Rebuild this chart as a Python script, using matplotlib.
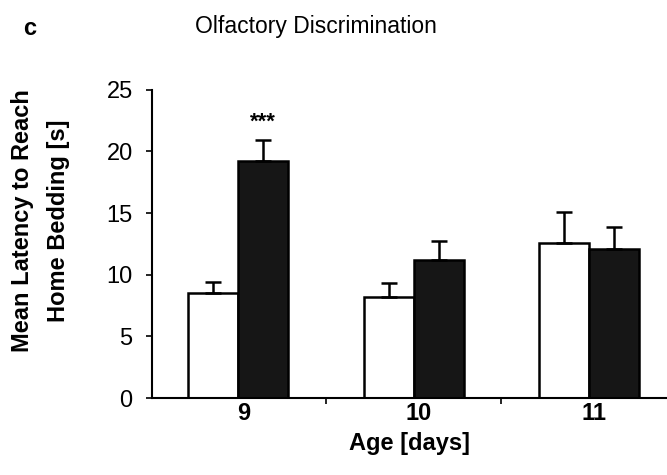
import matplotlib.pyplot as plt
import numpy as np

plt.rcParams['font.family'] = ['Liberation Sans', 'DejaVu Sans']

# Data
ages = ['9', '10', '11']
control_mean = [8.5, 8.2, 12.6]
control_err = [0.9, 1.1, 2.5]
treated_mean = [19.2, 11.2, 12.1]
treated_err = [1.7, 1.5, 1.8]

x = np.arange(len(ages))
w = 0.285

fig = plt.figure(figsize=(6.67, 4.75), dpi=100)
ax = fig.add_axes([0.228, 0.162, 0.772, 0.649])

ekw = dict(ecolor='black', elinewidth=1.8, capsize=6, capthick=1.8)
ax.bar(x - w / 2, control_mean, w, color='white', edgecolor='black', linewidth=1.8,
       yerr=[np.zeros(3), control_err], error_kw=ekw)
ax.bar(x + w / 2, treated_mean, w, color='#161616', edgecolor='black', linewidth=1.8,
       yerr=[np.zeros(3), treated_err], error_kw=ekw)

# significance marker
ax.text(x[0] + w / 2, treated_mean[0] + treated_err[0] + 0.6, '***', ha='center', va='bottom',
        fontsize=16, fontweight='bold')

ax.set_xlim(-0.49, 2.444)
ax.set_ylim(0, 25)
ax.set_yticks([0, 5, 10, 15, 20, 25])
ax.tick_params(axis='y', labelsize=17, length=4, width=1.2, direction='out', pad=10)

ax.set_xticks([0.5, 1.5], minor=True)
ax.set_xticks(x + 0.03)
ax.set_xticklabels(ages, fontsize=17, fontweight='bold')
ax.tick_params(axis='x', which='major', length=0, pad=3)
ax.tick_params(axis='x', which='minor', length=4, width=1.2, direction='out')

for s in ['top', 'right']:
    ax.spines[s].set_visible(False)
ax.spines['left'].set_linewidth(1.5)
ax.spines['bottom'].set_linewidth(1.5)

ax.set_xlabel('Age [days]', fontsize=17, fontweight='bold', labelpad=5)
ax.set_ylabel('Mean Latency to Reach\nHome Bedding [s]', fontsize=17, fontweight='bold',
              linespacing=1.7, va='center')
ax.yaxis.set_label_coords(-0.217, 0.575)

fig.text(0.045, 0.94, 'c', fontsize=17, fontweight='bold', ha='center', va='center')
fig.text(0.474, 0.945, 'Olfactory Discrimination', fontsize=16.5, ha='center', va='center')

fig.savefig('out.png', dpi=100)
